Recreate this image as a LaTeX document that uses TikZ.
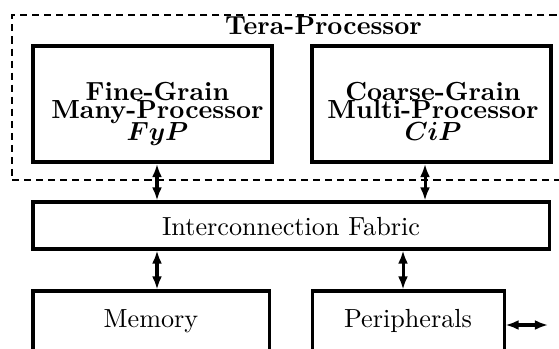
\documentclass[tikz,border=0pt]{standalone}
\usetikzlibrary{arrows.meta,fit}
\begin{document}
\begin{tikzpicture}[x=0.382pt,y=-0.382pt,
  thickbox/.style={draw,line width=1.5pt,inner sep=0pt},
  thinbox/.style={draw,line width=1.15pt,inner sep=0pt},
  dashbox/.style={draw,line width=0.75pt,dash pattern=on 2.7pt off 1.9pt,inner sep=0pt},
  ttl/.style={inner sep=0pt,align=center,font={\bfseries\fontsize{10}{6.9}\selectfont\lineskiplimit=-20pt}},
  lbl/.style={inner sep=0pt,font=\fontsize{10}{12}\selectfont},
  dbl/.style={line width=1.15pt,{Latex[length=5pt,width=3.8pt]}-{Latex[length=5pt,width=3.8pt]}}
]
\useasboundingbox (0,0) rectangle (559,348);
\clip (0,0) rectangle (559,348);
% boxes
\node[dashbox,fit={(12,15) (563,180)}] (tera) {};
\node[thickbox,fit={(33,46) (272,162)}] (fyp) {};
\node[thickbox,fit={(312,46) (551,162)}] (cip) {};
\node[thinbox,fit={(33,202) (549,249)}] (fab) {};
\node[thinbox,fit={(33,291) (269,352)}] (mem) {};
\node[thinbox,fit={(312,291) (504,352)}] (per) {};
% texts
\node[lbl,font=\bfseries\fontsize{10}{12}\selectfont,anchor=base] (teratxt) at (323.5,35) {Tera-Processor};
\node[ttl,anchor=north] (fyptxt) at (157.5,82) {Fine-Grain\\Many-Processor\\[1.2pt]{\boldmath$FyP$}};
\node[ttl,anchor=north] (ciptxt) at (433,82) {Coarse-Grain\\Multi-Processor\\[1.2pt]{\boldmath$CiP$}};
\node[lbl,anchor=base] (fabtxt) at (291,235) {Interconnection Fabric};
\node[lbl,anchor=base] (memtxt) at (151,327) {Memory};
\node[lbl,anchor=base] (pertxt) at (408,327) {Peripherals};
% connectors
\coordinate (xa) at (157,0);
\coordinate (xb) at (425,0);
\coordinate (xc) at (403,0);
\coordinate (pe) at (548,325);
\draw[dbl] (fyp.south -| xa) -- (fab.north -| xa);
\draw[dbl] (cip.south -| xb) -- (fab.north -| xb);
\draw[dbl] (fab.south -| xa) -- (mem.north -| xa);
\draw[dbl] (fab.south -| xc) -- (per.north -| xc);
\draw[dbl] (per.east |- pe) -- (pe);
\end{tikzpicture}
\end{document}
